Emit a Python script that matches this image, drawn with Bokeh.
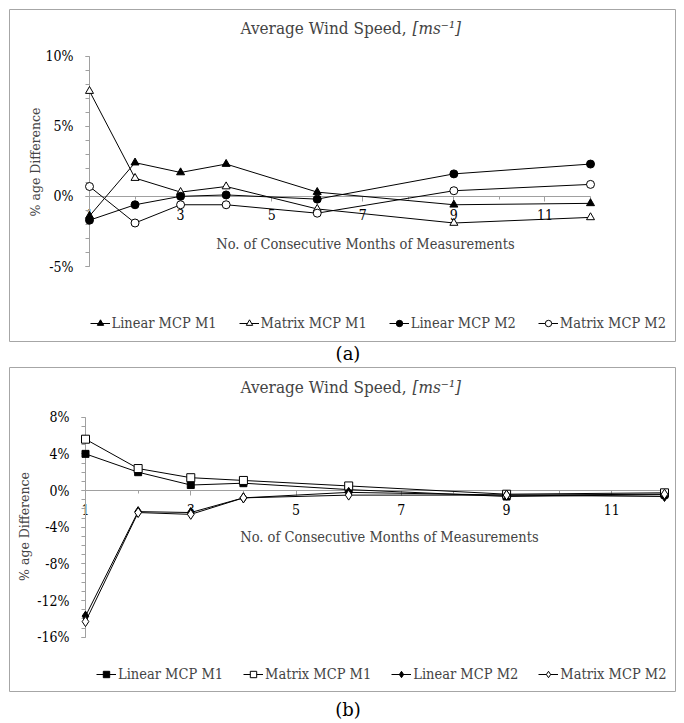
import math
from bokeh.plotting import figure
from bokeh.models import (Range1d, LinearAxis, FixedTicker, PrintfTickFormatter,
                          Legend, LegendItem, Label, Div)
from bokeh.layouts import column
from bokeh.embed import file_html
from bokeh.resources import INLINE

# ---------------- data ----------------
months = [1, 2, 3, 4, 6, 9, 12]
x_ticks = [1, 3, 5, 7, 9, 11]
series_names = ["Linear MCP M1", "Matrix MCP M1", "Linear MCP M2", "Matrix MCP M2"]

# panel (a)
a_linear_m1 = [-1.4, 2.4, 1.7, 2.3, 0.3, -0.6, -0.5]
a_matrix_m1 = [7.5, 1.3, 0.3, 0.7, -0.9, -1.9, -1.5]
a_linear_m2 = [-1.7, -0.6, 0.0, 0.1, -0.2, 1.6, 2.3]
a_matrix_m2 = [0.7, -1.9, -0.6, -0.6, -1.2, 0.4, 0.85]
a_y_ticks = [-5, 0, 5, 10]

# panel (b)
b_linear_m1 = [4.0, 2.0, 0.6, 0.8, 0.1, -0.65, -0.45]
b_matrix_m1 = [5.6, 2.4, 1.4, 1.1, 0.5, -0.4, -0.25]
b_linear_m2 = [-13.7, -2.3, -2.4, -0.8, -0.2, -0.5, -0.65]
b_matrix_m2 = [-14.3, -2.4, -2.6, -0.8, -0.5, -0.5, -0.4]
b_y_ticks = [-16, -12, -8, -4, 0, 4, 8]

title_main = "Average Wind Speed,"
title_unit = "[ms\u207b\u00b9]"
x_title = "No. of Consecutive Months of Measurements"
y_title = "% age Difference"

FONT = "DejaVu Serif Condensed"
FONT_REG = "DejaVu Serif"
GRAY = "#a0a0a0"
W = 668
OX, OY = 8, 8   # page offset of the layout


def mapping(fig_top, fig_h, xa, pxa, xb, pxb, ya, pya, yb, pyb):
    fl, ft = OX + 1, fig_top + 1
    fw, fh = W - 2, fig_h - 2
    kx = (pxb - pxa) / (xb - xa)
    x0 = xa - (pxa - fl) / kx
    x1 = x0 + fw / kx
    ky = (pyb - pya) / (ya - yb)
    y1 = ya + (pya - ft) / ky
    y0 = y1 - fh / ky
    fx = lambda px: x0 + (px - fl) / kx
    fy = lambda py: y1 - (py - ft) / ky
    return (x0, x1, y0, y1), fx, fy


def make_panel(fig_top, fig_h, anchors, y_ticks, ybounds, series, markers, legend_pos,
               title_y, title_split, ytitle_pos, xtitle_pos, legend_spacing):
    (x0, x1, y0, y1), fx, fy = mapping(fig_top, fig_h, *anchors)
    p = figure(width=W, height=fig_h, x_range=Range1d(x0, x1), y_range=Range1d(y0, y1),
               output_backend="svg", toolbar_location=None,
               x_axis_location=None, y_axis_location=None, min_border=1)
    p.xgrid.grid_line_color = None
    p.ygrid.grid_line_color = None
    p.outline_line_color = "#a6a6a6"
    p.outline_line_width = 1
    p.background_fill_color = "white"
    p.border_fill_color = "white"

    xaxis = LinearAxis(fixed_location=0, bounds=(1, 12),
                       ticker=FixedTicker(ticks=x_ticks, minor_ticks=list(range(1, 13))))
    yaxis = LinearAxis(fixed_location=1, bounds=ybounds,
                       ticker=FixedTicker(ticks=y_ticks,
                                          minor_ticks=list(range(ybounds[0], ybounds[1] + 1))),
                       formatter=PrintfTickFormatter(format="%d%%"))
    for ax in (xaxis, yaxis):
        ax.level = "underlay"
        ax.axis_line_color = GRAY
        ax.major_tick_line_color = GRAY
        ax.minor_tick_line_color = GRAY
        ax.major_tick_in = 0
        ax.minor_tick_in = 0
        ax.major_label_text_font = FONT
        ax.major_label_text_font_size = "14px"
        ax.major_label_text_color = "black"
    xaxis.major_tick_out = 5
    xaxis.minor_tick_out = 3
    xaxis.major_label_standoff = 8
    yaxis.major_tick_out = 4
    yaxis.minor_tick_out = 4
    yaxis.major_label_standoff = 12
    p.add_layout(xaxis, "below")
    p.add_layout(yaxis, "left")

    items = []
    for name, vals, (mk, fill, size) in zip(series_names, series, markers):
        ln = p.line(months, vals, line_color="black", line_width=1)
        sc = p.scatter(months, vals, marker=mk, size=size, fill_color=fill,
                       line_color="black", line_width=1)
        items.append(LegendItem(label=name, renderers=[ln, sc]))

    legend = Legend(items=items, orientation="horizontal", location=legend_pos,
                    border_line_color=None, background_fill_alpha=0, padding=0, margin=0,
                    spacing=legend_spacing, label_standoff=2, glyph_width=20, glyph_height=16,
                    label_height=16, label_text_font=FONT, label_text_font_size="14.5px")
    p.add_layout(legend)

    p.add_layout(Label(x=fx(title_split), y=fy(title_y), text=title_main, text_align="right",
                       text_baseline="middle", text_font=FONT, text_font_size="17px"))
    p.add_layout(Label(x=fx(title_split + 6), y=fy(title_y), text=title_unit, text_align="left",
                       text_baseline="middle", text_font=FONT, text_font_size="17px",
                       text_font_style="italic"))
    p.add_layout(Label(x=fx(ytitle_pos[0]), y=fy(ytitle_pos[1]), text=y_title, angle=math.pi / 2,
                       text_align="center", text_baseline="middle", text_font=FONT_REG,
                       text_font_size="12.5px"))
    p.add_layout(Label(x=fx(xtitle_pos[0]), y=fy(xtitle_pos[1]), text=x_title,
                       text_align="center", text_baseline="middle", text_font=FONT,
                       text_font_size="14.5px"))
    return p


pa = make_panel(OY, 334, (1, 89, 12, 590, 10, 55.5, -5, 266), a_y_ticks, (-5, 10),
                [a_linear_m1, a_matrix_m1, a_linear_m2, a_matrix_m2],
                [("triangle", "black", 8), ("triangle", "white", 8),
                 ("circle", "black", 8), ("circle", "white", 8)],
                (80.5, 10), 27, 406, (35, 161.5), (365, 243), 22)

pb = make_panel(366, 326, (1, 85, 12, 664, 8, 416.7, -16, 636.7), b_y_ticks, (-16, 8),
                [b_linear_m1, b_matrix_m1, b_linear_m2, b_matrix_m2],
                [("square", "black", 7), ("square", "white", 8),
                 ("diamond", "black", 10), ("diamond", "white", 10)],
                (87, 9), 386.7, 406, (24, 526), (389, 536.7), 20)

div_style = {"text-align": "center", "font-family": FONT_REG, "font-size": "18px",
             "line-height": "24px", "position": "relative", "left": "6px"}
da = Div(text="(a)", width=W, height=24, margin=0, styles=dict(div_style))
db_style = dict(div_style)
db_style["top"] = "6px"
db = Div(text="(b)", width=W, height=23, margin=0, styles=db_style)

layout = column(pa, da, pb, db, spacing=0, margin=(OY, 8, 0, OX))
open("out.html", "w").write(file_html(layout, INLINE))
